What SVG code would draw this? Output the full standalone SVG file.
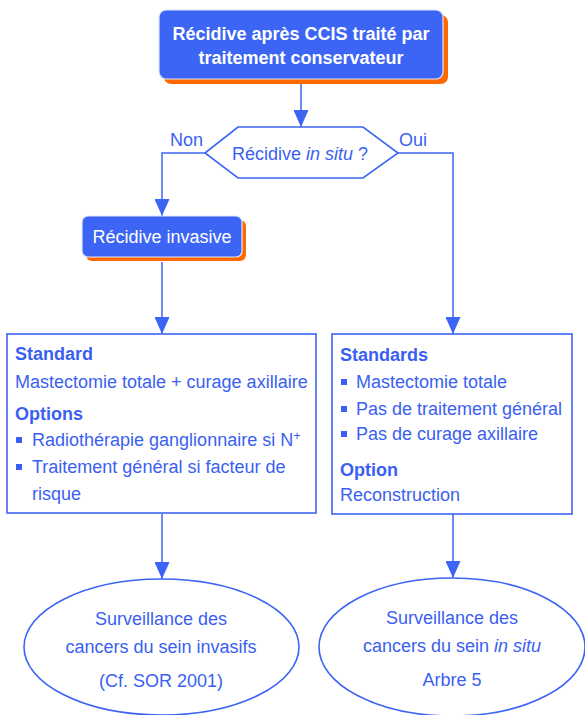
<svg xmlns="http://www.w3.org/2000/svg" width="585" height="715" viewBox="0 0 585 715">
  <style>
    text { font-family: "Liberation Sans", Arial, sans-serif; font-size: 18px; }
    .w { fill: #ffffff; }
    .b { fill: #3a5ff2; }
    .bold { font-weight: bold; }
    .it { font-style: italic; }
    .mid { text-anchor: middle; }
    .shadow { fill: #ff6a00; }
    .solid { fill: #3c65f5; stroke: #dfe6ff; stroke-width: 1.2; }
    .frame { fill: #ffffff; stroke: #3c65f5; stroke-width: 1.6; }
    .link { fill: none; stroke: #3c65f5; stroke-width: 1.5; marker-end: url(#head); }
    .bullet { fill: #3a5ff2; }
  </style>
  <defs>
    <!-- solid triangular arrowhead, tip at the path end -->
    <marker id="head" markerUnits="userSpaceOnUse" markerWidth="17" markerHeight="15" viewBox="0 0 17 15" refX="17" refY="7.5" orient="auto">
      <path d="M0,0 L17,7.5 L0,15 Z" fill="#3c65f5"/>
    </marker>
  </defs>

  <!-- connectors -->
  <g id="connectors">
    <path class="link" d="M301,84 V127"/>
    <path class="link" d="M205,153 H162 V216"/>
    <path class="link" d="M398,153 H453 V334"/>
    <path class="link" d="M162,262 V334"/>
    <path class="link" d="M162,514 V579"/>
    <path class="link" d="M453,514 V578"/>
  </g>

  <!-- start node -->
  <g id="start">
    <rect class="shadow" x="164" y="15" width="284" height="69" rx="7"/>
    <rect class="solid" x="159" y="10" width="284" height="69" rx="7"/>
    <text class="w bold mid" x="301" y="40">Récidive après CCIS traité par</text>
    <text class="w bold mid" x="301" y="64">traitement conservateur</text>
  </g>

  <!-- decision -->
  <g id="decision">
    <polygon class="frame" points="205,153 238,127 363,127 398,153 363,178 238,178"/>
    <text class="b mid" x="300" y="160">Récidive <tspan class="it">in situ</tspan> ?</text>
    <text class="b" x="170" y="146">Non</text>
    <text class="b" x="399" y="146">Oui</text>
  </g>

  <!-- invasive recurrence -->
  <g id="invasive">
    <rect class="shadow" x="86" y="220" width="160" height="41" rx="6"/>
    <rect class="solid" x="82" y="216" width="160" height="41" rx="6"/>
    <text class="w mid" x="162" y="243">Récidive invasive</text>
  </g>

  <!-- left treatment box -->
  <g id="treat-invasive">
    <rect class="frame" x="7" y="334" width="309" height="179"/>
    <text class="b bold" x="15" y="360">Standard</text>
    <text class="b" x="15" y="388">Mastectomie totale + curage axillaire</text>
    <text class="b bold" x="15" y="420">Options</text>
    <rect class="bullet" x="16" y="437" width="6" height="6"/>
    <text class="b" x="32" y="446">Radiothérapie ganglionnaire si N<tspan font-size="13" dy="-6">+</tspan></text>
    <rect class="bullet" x="16" y="464" width="6" height="6"/>
    <text class="b" x="32" y="473">Traitement général si facteur de</text>
    <text class="b" x="32" y="500">risque</text>
  </g>

  <!-- right treatment box -->
  <g id="treat-insitu">
    <rect class="frame" x="332" y="334" width="240" height="180"/>
    <text class="b bold" x="340" y="361">Standards</text>
    <rect class="bullet" x="341" y="379" width="6" height="6"/>
    <text class="b" x="356" y="388">Mastectomie totale</text>
    <rect class="bullet" x="341" y="406" width="6" height="6"/>
    <text class="b" x="356" y="415">Pas de traitement général</text>
    <rect class="bullet" x="341" y="431" width="6" height="6"/>
    <text class="b" x="356" y="440">Pas de curage axillaire</text>
    <text class="b bold" x="340" y="476">Option</text>
    <text class="b" x="340" y="501">Reconstruction</text>
  </g>

  <!-- follow-up ellipses -->
  <g id="follow-invasive">
    <ellipse class="frame" cx="161.5" cy="647" rx="137.5" ry="68"/>
    <text class="b mid" x="161" y="625">Surveillance des</text>
    <text class="b mid" x="161" y="653">cancers du sein invasifs</text>
    <text class="b mid" x="161" y="687">(Cf. SOR 2001)</text>
  </g>
  <g id="follow-insitu">
    <ellipse class="frame" cx="452" cy="647" rx="133" ry="69"/>
    <text class="b mid" x="452" y="624">Surveillance des</text>
    <text class="b mid" x="452" y="652">cancers du sein <tspan class="it">in situ</tspan></text>
    <text class="b mid" x="452" y="686">Arbre 5</text>
  </g>
</svg>
